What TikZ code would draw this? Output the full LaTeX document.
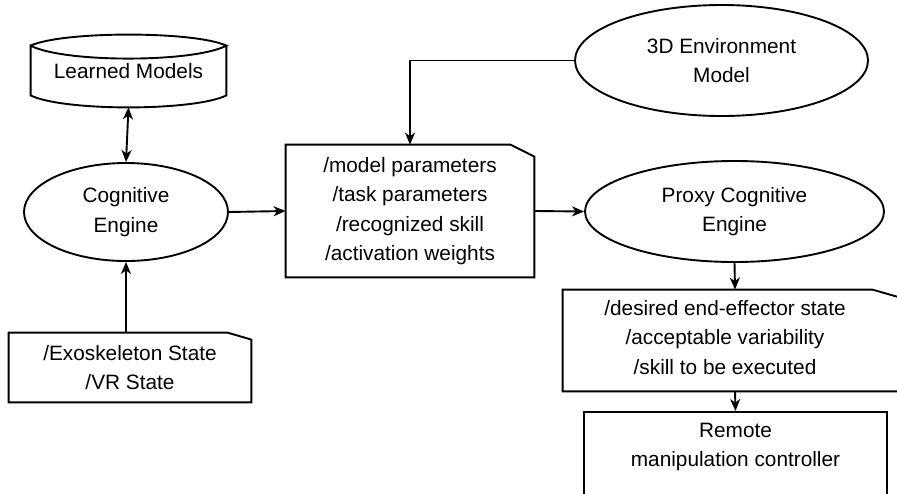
\documentclass[tikz,border=0pt]{standalone}
\usepackage{fontspec}
\setmainfont{Liberation Sans}
\usepackage{tikz}
\usetikzlibrary{calc,positioning,shapes.geometric,arrows.meta}

\tikzset{
    every node/.style={font=\fontsize{10.4}{14.75}\selectfont, align=center, inner sep=0pt},
    line/.style={line width=0.95pt},
    tip/.tip={Stealth[length=6pt,width=5pt,inset=1.8pt]},
    arr/.style={line, -tip},
    oval/.style={ellipse, draw, line width=0.95pt},
    holder/.style={rectangle}
}
% outline of a box with the top right corner cut off
\newcommand{\cutbox}[3]{%
    \draw[line] (#1.south west) -- (#1.south east) --
        ($(#1.north east)+(0,#3)$) -- ($(#1.north east)+(-#2,0)$) --
        (#1.north west) -- cycle;}

\begin{document}
\begin{tikzpicture}[x=0.5pt,y=-0.5pt]
    \useasboundingbox (0,0) rectangle (897,493);
    \clip (0,0) rectangle (897,493);

    % stored models
    \node[holder, minimum width=97.5pt, minimum height=36pt] (lm) at (128.5,71) {Learned Models};
    \draw[line]
        ($(lm.north west)+(0,11)$) .. controls +(32.5,-14.7) and +(-32.5,-14.7) .. ($(lm.north east)+(0,11)$)
        .. controls +(-32.5,17.3) and +(32.5,17.3) .. ($(lm.north west)+(0,11)$)
        -- ($(lm.south west)+(0,-12)$)
        .. controls +(32.5,16) and +(-32.5,16) .. ($(lm.south east)+(0,-12)$)
        -- ($(lm.north east)+(0,11)$);

    \node[oval, minimum width=102pt, minimum height=49pt] (cog) at (126,212) {Cognitive\\Engine};

    \node[holder, minimum width=121pt, minimum height=34.5pt] (exo) at (130,367.5) {/Exoskeleton State\\/VR State};
    \cutbox{exo}{24}{7}

    \node[holder, minimum width=124pt, minimum height=66pt] (par) at (410,211)
        {/model parameters\\/task parameters\\/recognized skill\\/activation weights};
    \cutbox{par}{24}{12}

    \node[oval, minimum width=146.5pt, minimum height=55.5pt] (env) at (721.5,60.5) {3D Environment\\Model};

    \node[oval, minimum width=149.5pt, minimum height=50.5pt] (pce) at (734.5,211.5) {Proxy Cognitive\\Engine};

    \node[holder, minimum width=172pt, minimum height=50.5pt] (des) at (735,340.5) {};
    \cutbox{des}{35}{10}
    \node (deslabel) at ($(des.center)+(-10,-3)$)
        {/desired end-effector state\\/acceptable variability\\/skill to be executed};

    \node[rectangle, draw, line width=0.95pt, minimum width=151.5pt, minimum height=45pt, anchor=north] (rmc) at (735.5,411) {};
    \node (rmclabel) at ($(rmc.north)+(0,36)$) {Remote\\manipulation controller};

    % connectors
    \draw[line, tip-tip] (lm.south) -- (cog.north);
    \draw[arr] (exo.north -| cog.south) -- (cog.south);
    \draw[arr] (cog.east) -- (par.west);
    \draw[arr] (env.west) -| (par.north);
    \draw[arr] (par.east) -- (pce.west);
    \draw[arr] (pce.south) -- (des.north);
    \draw[arr] (des.south) -- (rmc.north);
\end{tikzpicture}
\end{document}
